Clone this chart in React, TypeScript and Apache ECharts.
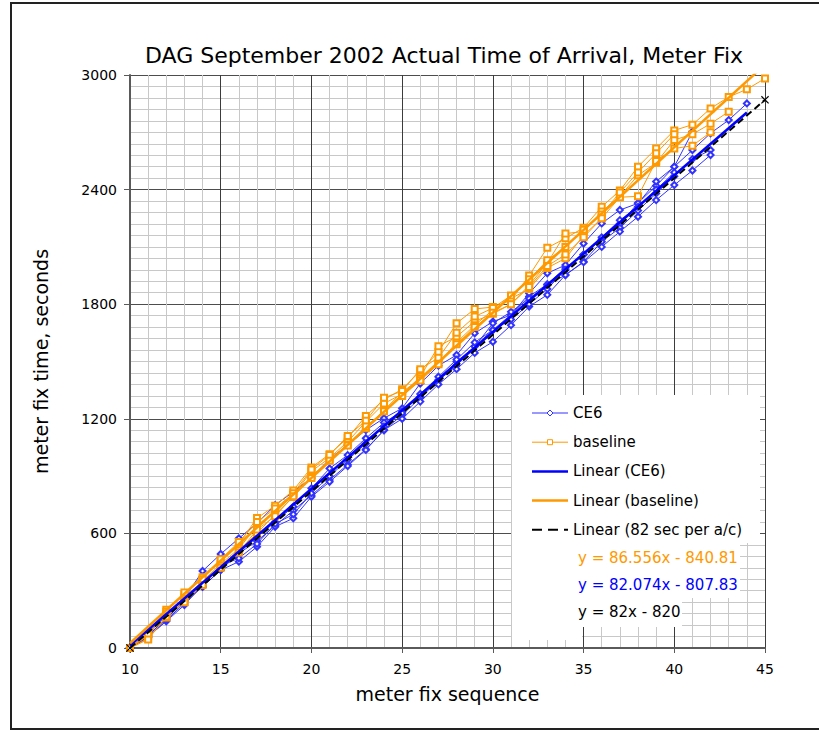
import React, { useEffect, useRef } from "react";
import * as echarts from "echarts";

const TITLE = "DAG September 2002 Actual Time of Arrival, Meter Fix";
const X_NAME = "meter fix sequence";
const Y_NAME = "meter fix time, seconds";
const FIRST_FIX = 10;
const X_RANGE = [10, 45];
const Y_RANGE = [0, 3000];

// CE6 runs: meter fix time (s) for sequence 10, 11, 12, ...
const CE6_RUN_1 = [0, 70, 150, 250, 320, 410, 495, 560, 640, 720, 800, 880, 960, 1040, 1140, 1220, 1310, 1400, 1480, 1580, 1665, 1745, 1840, 1905, 1990, 2060, 2140, 2220, 2330, 2420, 2520, 2607, 2695, 2764, 2851];
const CE6_RUN_2 = [0, 80, 165, 260, 403, 492, 574, 653, 748, 818, 890, 990, 1063, 1141, 1203, 1255, 1385, 1478, 1534, 1648, 1709, 1743, 1857, 1962, 2005, 2118, 2223, 2293, 2328, 2442, 2520, 2703];
const CE6_RUN_3 = [0, 60, 140, 225, 330, 420, 500, 580, 660, 740, 836, 940, 1010, 1098, 1180, 1240, 1316, 1403, 1500, 1578, 1700, 1760, 1830, 1900, 1953, 2023, 2127, 2200, 2290, 2380, 2470, 2560, 2607];
const CE6_RUN_4 = [0, 55, 145, 235, 321, 408, 452, 530, 635, 679, 792, 870, 953, 1037, 1141, 1200, 1290, 1380, 1460, 1545, 1603, 1690, 1788, 1849, 1953, 2020, 2100, 2180, 2258, 2345, 2424, 2500, 2581];
const CE6_RUN_5 = [0, 65, 155, 245, 340, 430, 470, 545, 650, 700, 810, 900, 985, 1070, 1160, 1230, 1330, 1420, 1510, 1600, 1665, 1720, 1800, 1880, 1980, 2060, 2150, 2240, 2310, 2400, 2490];

// baseline runs
const BASE_RUN_1 = [0, 65, 200, 280, 370, 455, 545, 680, 745, 825, 945, 1015, 1100, 1215, 1300, 1355, 1450, 1550, 1700, 1775, 1785, 1820, 1950, 2095, 2145, 2200, 2310, 2395, 2520, 2615, 2710, 2740, 2825, 2885, 2925, 2982];
const BASE_RUN_2 = [0, 80, 175, 265, 350, 440, 520, 640, 720, 800, 925, 995, 1080, 1185, 1280, 1330, 1420, 1580, 1630, 1710, 1750, 1800, 1900, 2015, 2170, 2180, 2285, 2365, 2475, 2540, 2660, 2690, 2745, 2808];
const BASE_RUN_3 = [0, 50, 160, 250, 340, 430, 510, 600, 700, 790, 900, 985, 1065, 1150, 1245, 1340, 1410, 1490, 1600, 1690, 1770, 1830, 1880, 1990, 2040, 2160, 2250, 2360, 2365, 2550, 2615, 2630, 2700];
const BASE_RUN_4 = [0, 70, 190, 290, 360, 465, 555, 660, 730, 810, 935, 1010, 1110, 1190, 1310, 1345, 1460, 1520, 1650, 1735, 1780, 1845, 1930, 2030, 2100, 2190, 2270, 2385, 2490, 2590, 2690];
const BASE_RUN_5 = [0, 45, 165, 240, 330, 420, 500, 620, 690, 795, 890, 980, 1060, 1160, 1240, 1320, 1400, 1485, 1590, 1680, 1755, 1800, 1890, 2000, 2060, 2150, 2250];

// trendlines: [slope, intercept], [x from, x to]
const TREND_CE6 = [82.074, -807.83];
const TREND_CE6_SPAN = [10, 44];
const TREND_BASE = [86.556, -840.81];
const TREND_BASE_SPAN = [10, 45];
const TREND_82 = [82, -820];
const TREND_82_SPAN = [10, 45];

const LEGEND_NAMES = ["CE6", "baseline", "Linear (CE6)", "Linear (baseline)", "Linear (82 sec per a/c)"];
const EQUATIONS = ["y = 86.556x - 840.81", "y = 82.074x - 807.83", "y = 82x - 820"];

const CE6_RUNS = [CE6_RUN_1, CE6_RUN_2, CE6_RUN_3, CE6_RUN_4, CE6_RUN_5];
const BASE_RUNS = [BASE_RUN_1, BASE_RUN_2, BASE_RUN_3, BASE_RUN_4, BASE_RUN_5];

const FONT = "DejaVu Sans";
const BLUE_THIN = "#3333ff";
const BLUE = "#0000ff";
const ORANGE = "#ff9900";
const CROSS = "path://M0,1L1,0L5,4L9,0L10,1L6,5L10,9L9,10L5,6L1,10L0,9L4,5Z";

function toPairs(run: number[]) {
  return run.map((v, i) => [FIRST_FIX + i, v]);
}
function trendPairs(coef: number[], span: number[]) {
  return span.map((x) => [x, coef[0] * x + coef[1]]);
}

export default function App() {
  const ref = useRef<HTMLDivElement>(null);
  useEffect(() => {
    if (!ref.current) return;
    const chart = echarts.init(ref.current, undefined, { renderer: "svg" });

    const series: any[] = [];
    CE6_RUNS.forEach((run, i) => {
      series.push({
        name: "CE6",
        id: "ce6_" + i,
        type: "line",
        data: toPairs(run),
        symbol: "emptyDiamond",
        symbolSize: 6,
        lineStyle: { color: BLUE_THIN, width: 1 },
        itemStyle: { color: BLUE_THIN, borderWidth: 1 },
        z: 2,
      });
    });
    BASE_RUNS.forEach((run, i) => {
      series.push({
        name: "baseline",
        id: "base_" + i,
        type: "line",
        data: toPairs(run),
        symbol: "emptyRect",
        symbolSize: 6,
        lineStyle: { color: ORANGE, width: 1 },
        itemStyle: { color: ORANGE, borderWidth: 1 },
        z: 3,
      });
    });
    series.push({
      name: "Linear (CE6)",
      type: "line",
      data: trendPairs(TREND_CE6, TREND_CE6_SPAN),
      symbol: "none",
      lineStyle: { color: BLUE, width: 2.5 },
      z: 4,
    });
    series.push({
      name: "Linear (baseline)",
      type: "line",
      data: trendPairs(TREND_BASE, TREND_BASE_SPAN),
      symbol: "none",
      clip: true,
      lineStyle: { color: ORANGE, width: 2.5 },
      z: 4,
    });
    series.push({
      name: "Linear (82 sec per a/c)",
      type: "line",
      data: trendPairs(TREND_82, TREND_82_SPAN),
      symbol: CROSS,
      symbolSize: 8,
      itemStyle: { color: "#000" },
      lineStyle: { color: "#000", width: 2, type: [7, 4] },
      z: 5,
    });

    const legendEls: any[] = [];
    const legendColors = [BLUE_THIN, ORANGE, BLUE, ORANGE, "#000"];
    const legendWidths = [1, 1, 2.5, 2.5, 2];
    LEGEND_NAMES.forEach((name, i) => {
      const y = 413 + i * 29.2;
      legendEls.push({
        type: "line",
        shape: { x1: 532, y1: y, x2: 568, y2: y },
        style: { stroke: legendColors[i], lineWidth: legendWidths[i], lineDash: i === 4 ? [10, 6] : null },
        z: 101,
      });
      if (i === 0) {
        legendEls.push({
          type: "polygon",
          shape: { points: [[550, y - 3], [553, y], [550, y + 3], [547, y]] },
          style: { fill: "#fff", stroke: legendColors[i], lineWidth: 1 },
          z: 102,
        });
      }
      if (i === 1) {
        legendEls.push({
          type: "rect",
          shape: { x: 547.5, y: y - 2.5, width: 5, height: 5 },
          style: { fill: "#fff", stroke: legendColors[i], lineWidth: 1 },
          z: 102,
        });
      }
      legendEls.push({
        type: "text",
        x: 573,
        y: y,
        style: { text: name, fill: "#000", font: `15px "${FONT}"`, textAlign: "left", textVerticalAlign: "middle" },
        z: 102,
      });
    });
    const eqColors = [ORANGE, BLUE, "#000"];
    EQUATIONS.forEach((eq, i) => {
      legendEls.push({
        type: "text",
        x: 578,
        y: 558 + i * 27,
        style: { text: eq, fill: eqColors[i], font: `15px "${FONT}"`, textAlign: "left", textVerticalAlign: "middle" },
        z: 102,
      });
    });

    chart.setOption({
      animation: false,
      backgroundColor: "#fff",
      textStyle: { fontFamily: FONT },
      grid: { left: 130, top: 75, right: 54, bottom: 82, containLabel: false },
      xAxis: {
        type: "value",
        min: X_RANGE[0],
        max: X_RANGE[1],
        interval: 5,
        name: X_NAME,
        nameLocation: "middle",
        nameGap: 36,
        nameTextStyle: { fontSize: 19, color: "#000", fontFamily: FONT },
        axisLine: { show: true, onZero: false, lineStyle: { color: "#5a5a5a", width: 2 } },
        axisTick: { show: true, inside: false, length: 5, lineStyle: { color: "#5a5a5a", width: 1 } },
        axisLabel: { color: "#000", fontSize: 14, fontFamily: FONT, margin: 14, formatter: (v: number) => String(v) },
        splitLine: { show: true, lineStyle: { color: "#3c3c3c", width: 1 } },
        minorTick: { show: false, splitNumber: 5 },
        minorSplitLine: { show: true, lineStyle: { color: "#c8c8c8", width: 1 } },
      },
      yAxis: {
        type: "value",
        min: Y_RANGE[0],
        max: Y_RANGE[1],
        interval: 600,
        name: Y_NAME,
        nameLocation: "middle",
        nameGap: 80,
        nameTextStyle: { fontSize: 19, color: "#000", fontFamily: FONT },
        axisLine: { show: true, onZero: false, lineStyle: { color: "#5a5a5a", width: 2 } },
        axisTick: { show: true, inside: false, length: 6, lineStyle: { color: "#5a5a5a", width: 1 } },
        axisLabel: { color: "#000", fontSize: 14, fontFamily: FONT, margin: 13, formatter: (v: number) => String(v) },
        splitLine: { show: true, lineStyle: { color: "#4d4d4d", width: 1 } },
        minorTick: { show: false, splitNumber: 10 },
        minorSplitLine: { show: true, lineStyle: { color: "#c8c8c8", width: 1 } },
      },
      series,
      graphic: [
        {
          type: "rect",
          shape: { x: 11, y: 3, width: 860, height: 726 },
          style: { fill: "none", stroke: "#222", lineWidth: 2 },
          z: 100,
        },
        {
          type: "text",
          x: 444,
          y: 55,
          style: { text: TITLE, fill: "#000", font: `22px "${FONT}"`, textAlign: "center", textVerticalAlign: "middle" },
          z: 100,
        },
        { type: "rect", shape: { x: 512, y: 395, width: 248, height: 148 }, style: { fill: "#fff" }, z: 100 },
        { type: "rect", shape: { x: 512, y: 543, width: 228, height: 55 }, style: { fill: "#fff" }, z: 100 },
        { type: "rect", shape: { x: 512, y: 598, width: 170, height: 29 }, style: { fill: "#fff" }, z: 100 },
        { type: "rect", shape: { x: 512, y: 627, width: 70, height: 13 }, style: { fill: "#fff" }, z: 100 },
        ...legendEls,
      ],
    });
    return () => chart.dispose();
  }, []);
  return (
    <div
      ref={ref}
      style={{ position: "fixed", left: 0, top: 0, width: 819, height: 730, background: "#fff" }}
    />
  );
}
